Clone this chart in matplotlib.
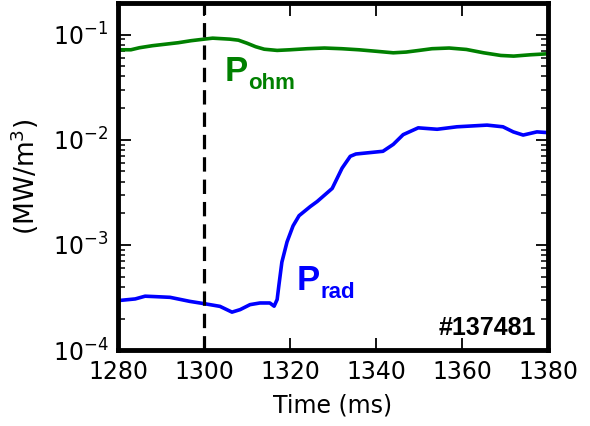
import numpy as np
import matplotlib
matplotlib.use("Agg")
import matplotlib.pyplot as plt

# data (time in ms, power density in MW/m^3)
t_ohm = [1280, 1283, 1285, 1288, 1291, 1294, 1297, 1300, 1302, 1304, 1306,
         1308, 1310, 1312, 1314, 1317, 1320, 1324, 1328, 1332, 1336, 1340,
         1344, 1347, 1350, 1353, 1357, 1361, 1365, 1369, 1372, 1376, 1380]
p_ohm = [0.0718, 0.0718, 0.0751, 0.0785, 0.0811, 0.0838, 0.0876, 0.0906,
         0.0926, 0.0916, 0.0906, 0.0886, 0.0829, 0.0768, 0.0727, 0.0708,
         0.0718, 0.0735, 0.0746, 0.0735, 0.0718, 0.0695, 0.0672, 0.0683,
         0.0708, 0.0735, 0.0746, 0.0723, 0.0672, 0.0634, 0.0625, 0.0644,
         0.0658]

t_rad = [1280, 1284, 1286.3, 1288.6, 1292.1, 1296.7, 1300, 1303.7, 1306.5,
         1308.4, 1310.7, 1313, 1315.3, 1316.3, 1317, 1317.4, 1318.1, 1319.3,
         1320.7, 1322.1, 1324.7, 1326.3, 1329.8, 1332.1, 1334, 1335.3,
         1341.6, 1344, 1346.3, 1349.8, 1354.2, 1358.8, 1365.8, 1369.5,
         1371.9, 1374.2, 1377.4, 1380]
p_rad = [2.96e-4, 3.07e-4, 3.26e-4, 3.23e-4, 3.18e-4, 2.91e-4, 2.77e-4,
         2.61e-4, 2.30e-4, 2.43e-4, 2.71e-4, 2.81e-4, 2.81e-4, 2.62e-4,
         3.03e-4, 4.12e-4, 6.87e-4, 1.07e-3, 1.52e-3, 1.90e-3, 2.32e-3,
         2.59e-3, 3.45e-3, 5.38e-3, 6.97e-3, 7.33e-3, 7.78e-3, 9.05e-3,
         1.12e-2, 1.30e-2, 1.26e-2, 1.33e-2, 1.38e-2, 1.33e-2, 1.19e-2,
         1.11e-2, 1.19e-2, 1.17e-2]

t_mark = 1300
shot = "#137481"

fig = plt.figure(figsize=(5.9, 4.26), dpi=100)
ax = fig.add_axes([0.2, 0.178, 0.729, 0.815])

ax.plot(t_ohm, p_ohm, color="green", lw=2.6, solid_capstyle="round")
ax.plot(t_rad, p_rad, color="blue", lw=2.6, solid_capstyle="round")
ax.axvline(t_mark, color="black", lw=2.3, dashes=(4.5, 2.5))

ax.set_yscale("log")
ax.set_xlim(1280, 1380)
ax.set_ylim(1e-4, 0.2)
ax.set_xticks(np.arange(1280, 1381, 20))

for s in ax.spines.values():
    s.set_linewidth(3.5)
ax.tick_params(which="both", direction="in", top=True, right=True,
               labelsize=17, pad=7)
ax.tick_params(which="major", length=9, width=1.3)
ax.tick_params(which="minor", length=5, width=1.1)

ax.set_xlabel("Time (ms)", fontsize=17, labelpad=7)
ax.set_ylabel("(MW/m$^3$)", fontsize=19, labelpad=8)

bold = dict(family="Liberation Sans", fontweight="bold")
ax.text(0.249, 0.775, "P", transform=ax.transAxes, color="green",
        fontsize=25, va="baseline", **bold)
ax.text(0.303, 0.752, "ohm", transform=ax.transAxes, color="green",
        fontsize=16, va="baseline", **bold)
ax.text(0.416, 0.173, "P", transform=ax.transAxes, color="blue",
        fontsize=25, va="baseline", **bold)
ax.text(0.470, 0.150, "rad", transform=ax.transAxes, color="blue",
        fontsize=16, va="baseline", **bold)
ax.text(0.972, 0.043, shot, transform=ax.transAxes, color="black",
        fontsize=18, ha="right", va="baseline", **bold)

fig.savefig("out.png", dpi=100)
